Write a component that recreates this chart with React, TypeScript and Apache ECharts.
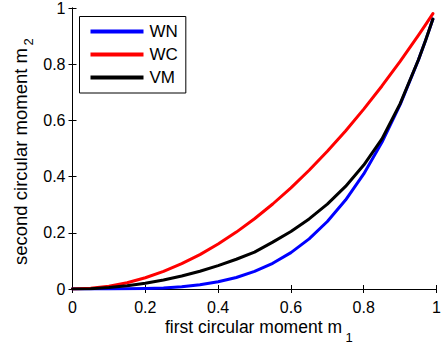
import React, { useEffect, useRef } from "react";
import * as echarts from "echarts";

// first circular moment m1 (x)
const m1 = [0, 0.05, 0.1, 0.15, 0.2, 0.25, 0.3, 0.35, 0.4, 0.45, 0.5, 0.55, 0.6, 0.65, 0.7, 0.75, 0.8, 0.85, 0.9, 0.95, 0.97, 0.99];
// second circular moment m2 for each family
const wn = [0, 0.00001, 0.0001, 0.0005, 0.0016, 0.0039, 0.0081, 0.015, 0.0256, 0.041, 0.0625, 0.0915, 0.1296, 0.1785, 0.2401, 0.3164, 0.4096, 0.522, 0.6561, 0.8145, 0.8853, 0.9606];
const wc = [0, 0.0025, 0.01, 0.0225, 0.04, 0.0625, 0.09, 0.1225, 0.16, 0.2025, 0.25, 0.3025, 0.36, 0.4225, 0.49, 0.5625, 0.64, 0.7225, 0.81, 0.9025, 0.9409, 0.9801];
const vm = [0, 0.0013, 0.005, 0.0113, 0.0203, 0.0318, 0.0461, 0.0632, 0.0831, 0.1058, 0.1312, 0.1667, 0.2048, 0.2494, 0.3022, 0.3651, 0.441, 0.534, 0.6598, 0.815, 0.8854, 0.9606];
const seriesNames = ["WN", "WC", "VM"];
const seriesColors = ["#0000ff", "#ff0000", "#000000"];
const xTicks = [0, 0.2, 0.4, 0.6, 0.8, 1];
const xTitle = "first circular moment m";
const xSub = "1";
const yTitle = "second circular moment m";
const ySub = "2";

const FONT = "'Liberation Sans', Arial, Helvetica, sans-serif";

export default function App() {
  const ref = useRef<HTMLDivElement>(null);
  useEffect(() => {
    if (!ref.current) return;
    const chart = echarts.init(ref.current, undefined, { renderer: "svg" });
    const values = [wn, wc, vm];
    const axisCommon = {
      type: "value" as const,
      min: 0,
      max: 1,
      interval: xTicks[1] - xTicks[0],
      axisLine: { show: true, lineStyle: { color: "#000", width: 1 } },
      axisTick: { show: true, inside: true, length: 4, lineStyle: { color: "#000" } },
      splitLine: { show: false },
    };
    chart.setOption({
      animation: false,
      backgroundColor: "#fff",
      grid: { left: 72.5, right: 1.5, top: 7, bottom: 58 },
      xAxis: [
        {
          ...axisCommon,
          position: "bottom",
          axisLabel: { show: true, fontSize: 16, color: "#000", fontFamily: FONT, margin: 10 },
        },
        { ...axisCommon, position: "top", axisLabel: { show: false } },
      ],
      yAxis: [
        {
          ...axisCommon,
          position: "left",
          axisLabel: { show: true, fontSize: 16, color: "#000", fontFamily: FONT, margin: 7 },
        },
        { ...axisCommon, position: "right", axisLabel: { show: false } },
      ],
      legend: {
        data: seriesNames,
        orient: "vertical",
        left: 79.5,
        top: 16.5,
        icon: "rect",
        itemWidth: 53,
        itemHeight: 4,
        itemGap: 6,
        padding: [6.5, 8, 7, 11],
        borderColor: "#000",
        borderWidth: 1,
        backgroundColor: "#fff",
        textStyle: { fontSize: 17, color: "#000", fontFamily: FONT, lineHeight: 16, padding: [0, 0, 0, 1] },
      },
      series: seriesNames.map((name, i) => ({
        name,
        type: "line",
        xAxisIndex: 0,
        yAxisIndex: 0,
        data: m1.map((x, j) => [x, values[i][j]]),
        showSymbol: false,
        smooth: false,
        color: seriesColors[i],
        lineStyle: { color: seriesColors[i], width: 3, join: "round", cap: "round" },
      })),
      graphic: [
        {
          type: "text",
          x: 165,
          y: 326.9,
          style: { text: xTitle, fontSize: 17.5, fontFamily: FONT, fill: "#000", align: "left", verticalAlign: "middle" },
        },
        {
          type: "text",
          x: 345.5,
          y: 337.5,
          style: { text: xSub, fontSize: 13, fontFamily: FONT, fill: "#000", align: "left", verticalAlign: "middle" },
        },
        {
          type: "text",
          x: 20.1,
          y: 265,
          rotation: Math.PI / 2,
          style: { text: yTitle, fontSize: 18.5, fontFamily: FONT, fill: "#000", align: "left", verticalAlign: "middle" },
        },
        {
          type: "text",
          x: 28.5,
          y: 45.5,
          rotation: Math.PI / 2,
          style: { text: ySub, fontSize: 13, fontFamily: FONT, fill: "#000", align: "left", verticalAlign: "middle" },
        },
      ],
    });
    return () => chart.dispose();
  }, []);
  return <div ref={ref} style={{ width: 444, height: 347, position: "absolute", left: 0, top: 0 }} />;
}
